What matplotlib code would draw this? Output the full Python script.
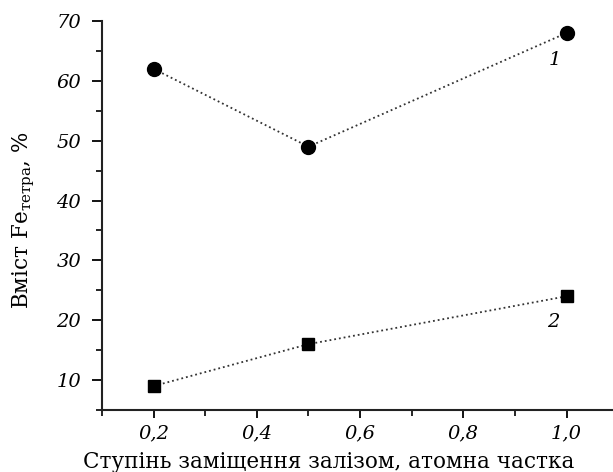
import matplotlib.pyplot as plt
from matplotlib.ticker import MultipleLocator, FuncFormatter

x1 = [0.2, 0.5, 1.0]
y1 = [62, 49, 68]
x2 = [0.2, 0.5, 1.0]
y2 = [9, 16, 24]

plt.rcParams['font.family'] = 'DejaVu Serif'

fig = plt.figure(figsize=(6.13, 4.72), dpi=100)
ax = fig.add_axes([0.1664, 0.1314, 0.8336, 0.8241])

ax.plot(x1, y1, ls=':', color='#333333', lw=1.3)
ax.plot(x1, y1, 'o', color='black', ms=10, ls='none')
ax.plot(x2, y2, ls=':', color='#333333', lw=1.3)
ax.plot(x2, y2, 's', color='black', ms=8.5, ls='none')

ax.text(0.977, 63.5, '1', fontsize=14, style='italic', ha='center', va='center')
ax.text(0.975, 19.7, '2', fontsize=14, style='italic', ha='center', va='center')

ax.set_xlim(0.1, 1.09)
ax.set_ylim(5, 70)
ax.xaxis.set_major_locator(MultipleLocator(0.2))
ax.xaxis.set_minor_locator(MultipleLocator(0.1))
ax.yaxis.set_major_locator(MultipleLocator(10))
ax.yaxis.set_minor_locator(MultipleLocator(5))
ax.xaxis.set_major_formatter(FuncFormatter(lambda v, p: f'{v:.1f}'.replace('.', ',')))
ax.yaxis.set_major_formatter(FuncFormatter(lambda v, p: f'{v:.0f}'))

for s in ['top', 'right']:
    ax.spines[s].set_visible(False)
for s in ['left', 'bottom']:
    ax.spines[s].set_linewidth(1.5)
    ax.spines[s].set_color('#222222')

ax.tick_params(which='major', length=6, width=1.3, labelsize=14, pad=4)
ax.tick_params(axis='y', which='major', length=7, pad=8)
ax.tick_params(which='minor', length=4, width=1.2)
for lab in ax.get_xticklabels() + ax.get_yticklabels():
    lab.set_style('italic')

ax.set_xlabel('Ступінь заміщення залізом, атомна частка', fontsize=15.5)
ax.xaxis.label.set_verticalalignment('baseline')
ax.xaxis.set_label_coords(0.444, -0.149)
ax.set_ylabel('Вміст Fe$_{\\mathregular{тетра}}$, %', fontsize=15.5, labelpad=14)
ax.yaxis.label.set_y(0.488)

fig.savefig('out.png', dpi=100)
